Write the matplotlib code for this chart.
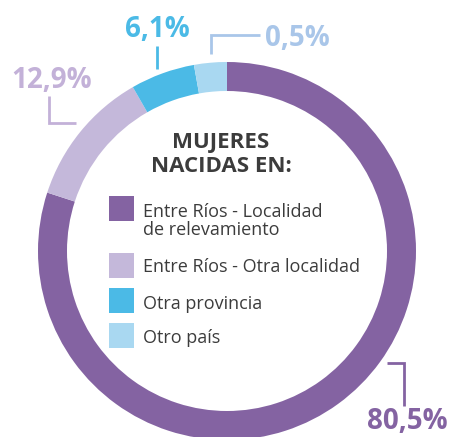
import matplotlib
matplotlib.use('Agg')
import matplotlib.pyplot as plt

# Datos
categorias = ['Entre Ríos - Localidad\nde relevamiento', 'Entre Ríos - Otra localidad',
              'Otra provincia', 'Otro país']
porcentajes = [80.5, 12.9, 6.1, 0.5]
etiquetas = ['80,5%', '12,9%', '6,1%', '0,5%']
# proporcion dibujada en el grafico original (el 0,5% aparece agrandado)
arco_dibujado = [80.0, 11.7, 5.5, 2.8]

colores = ['#8463A2', '#C4B8DA', '#4BBAE6', '#A9D8F1']
colores_texto = ['#8463A2', '#C3B1D8', '#4BBAE6', '#A9C6E9']
gris = '#3C3C3C'

W, H = 454, 437
fig = plt.figure(figsize=(W / 100, H / 100), dpi=100)
ax = fig.add_axes([0, 0, 1, 1])
ax.axis('off')

# Dona
cx, cy, r = 227, H - 251, 189
ax.pie(arco_dibujado, colors=colores, startangle=90, counterclock=False,
       center=(cx, cy), radius=r, wedgeprops=dict(width=29, linewidth=0))
ax.set_xlim(0, W)
ax.set_ylim(0, H)
ax.set_aspect('equal')

fuente = 'Open Sans'

# Titulo central
ax.text(221, H - 148, 'MUJERES', ha='center', va='baseline', fontsize=16,
        fontweight='bold', color=gris, family=fuente)
ax.text(221, H - 172, 'NACIDAS EN:', ha='center', va='baseline', fontsize=16,
        fontweight='bold', color=gris, family=fuente)

# Leyenda
cuadros_y = [196, 253, 288, 323]
texto_y = [235, 272, 309, 343]
for cat, col, qy, ty in zip(categorias, colores, cuadros_y, texto_y):
    ax.add_patch(plt.Rectangle((109, H - qy - 25), 25, 25, color=col, lw=0))
    ax.text(143, H - ty, cat, ha='left', va='baseline', fontsize=13,
            color=gris, family=fuente, linespacing=1.0)

# Etiquetas de porcentaje y lineas guia
pos_etq = [(407, 429), (52, 88), (157, 37), (297, 46)]
guias = [
    [(387, 363), (404, 363), (404, 406)],
    [(49, 96), (49, 123), (76, 123)],
    [(157, 46), (157, 69)],
    [(260, 35), (211, 35), (211, 54)],
]
for etq, col, (x, y), guia in zip(etiquetas, colores_texto, pos_etq, guias):
    ax.text(x, H - y, etq, ha='center', va='baseline', fontsize=20,
            fontweight='bold', color=col, family=fuente)
    ax.plot([p[0] for p in guia], [H - p[1] for p in guia], color=col, lw=2,
            solid_capstyle='butt', solid_joinstyle='miter')

fig.savefig('out.png', dpi=100)
